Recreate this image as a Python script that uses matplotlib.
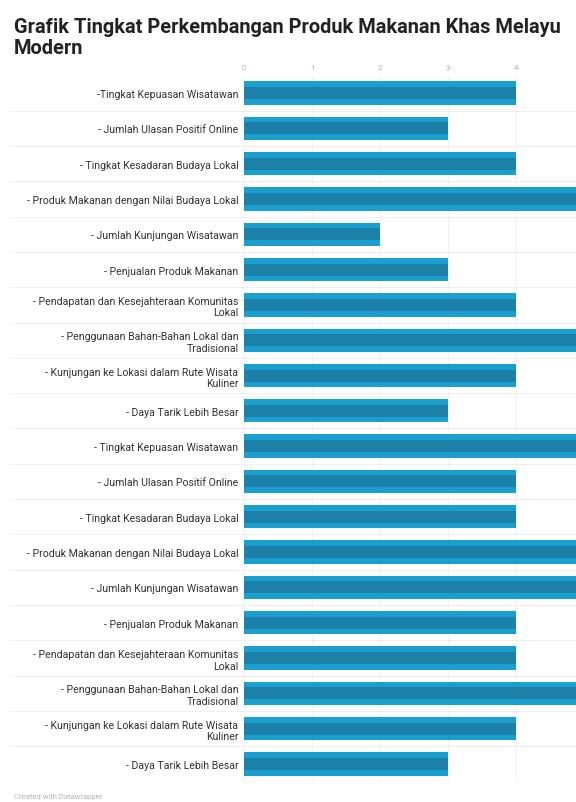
import numpy as np
import matplotlib.pyplot as plt
import matplotlib.transforms as mtransforms

# data
labels = [
    "-Tingkat Kepuasan Wisatawan",
    "- Jumlah Ulasan Positif Online",
    "- Tingkat Kesadaran Budaya Lokal",
    "- Produk Makanan dengan Nilai Budaya Lokal",
    "- Jumlah Kunjungan Wisatawan",
    "- Penjualan Produk Makanan",
    "- Pendapatan dan Kesejahteraan Komunitas\nLokal",
    "- Penggunaan Bahan-Bahan Lokal dan\nTradisional",
    "- Kunjungan ke Lokasi dalam Rute Wisata\nKuliner",
    "- Daya Tarik Lebih Besar",
    "- Tingkat Kepuasan Wisatawan",
    "- Jumlah Ulasan Positif Online",
    "- Tingkat Kesadaran Budaya Lokal",
    "- Produk Makanan dengan Nilai Budaya Lokal",
    "- Jumlah Kunjungan Wisatawan",
    "- Penjualan Produk Makanan",
    "- Pendapatan dan Kesejahteraan Komunitas\nLokal",
    "- Penggunaan Bahan-Bahan Lokal dan\nTradisional",
    "- Kunjungan ke Lokasi dalam Rute Wisata\nKuliner",
    "- Daya Tarik Lebih Besar",
]
values = [4, 3, 4, 5, 2, 3, 4, 5, 4, 3, 5, 4, 4, 5, 5, 4, 4, 5, 4, 3]
xticks = [0, 1, 2, 3, 4]

plt.rcParams['font.family'] = ['Roboto', 'DejaVu Sans']

fig = plt.figure(figsize=(5.76, 8.03), dpi=100)
ax = fig.add_axes([0.4236, 0.0253, 0.5764, 0.8797])

y = np.arange(len(values))
ax.barh(y, values, height=0.66, color='#1a9fcf', zorder=2)
ax.barh(y, values, height=0.34, color='#1d80a8', zorder=3)

ax.set_xlim(0, 4.88)
ax.set_ylim(len(values) - 0.5, -0.5)

# vertical grid
for t in xticks:
    ax.axvline(t, color='#f0f0f0', lw=0.6, zorder=0)

# garis pemisah antar baris
trans = mtransforms.blended_transform_factory(ax.transAxes, ax.transData)
for i in range(len(values) - 1):
    ax.plot([-0.705, 1.0], [i + 0.5, i + 0.5], transform=trans, color='#ececec',
            lw=0.6, clip_on=False, zorder=0)

ax.xaxis.tick_top()
ax.set_xticks(xticks)
ax.set_xticklabels([str(t) for t in xticks])
ax.tick_params(axis='x', length=0, pad=4, labelsize=5.5, labelcolor='#b0b0b0')

ax.set_yticks(y)
ax.set_yticklabels(labels, fontsize=7.6, color='#333333', linespacing=1.2)
for lab in ax.get_yticklabels():
    lab.set_horizontalalignment('right')
ax.tick_params(axis='y', length=0, pad=4)

for s in ax.spines.values():
    s.set_visible(False)

fig.text(0.024, 0.928, "Grafik Tingkat Perkembangan Produk Makanan Khas Melayu\nModern",
         fontsize=14.4, fontweight='bold', color='#222222', ha='left', va='bottom',
         linespacing=1.1)
fig.text(0.024, 0.004, "Created with Datawrapper", fontsize=5.5, color='#b5b5b5',
         ha='left', va='bottom')

fig.savefig('out.png', dpi=100)
